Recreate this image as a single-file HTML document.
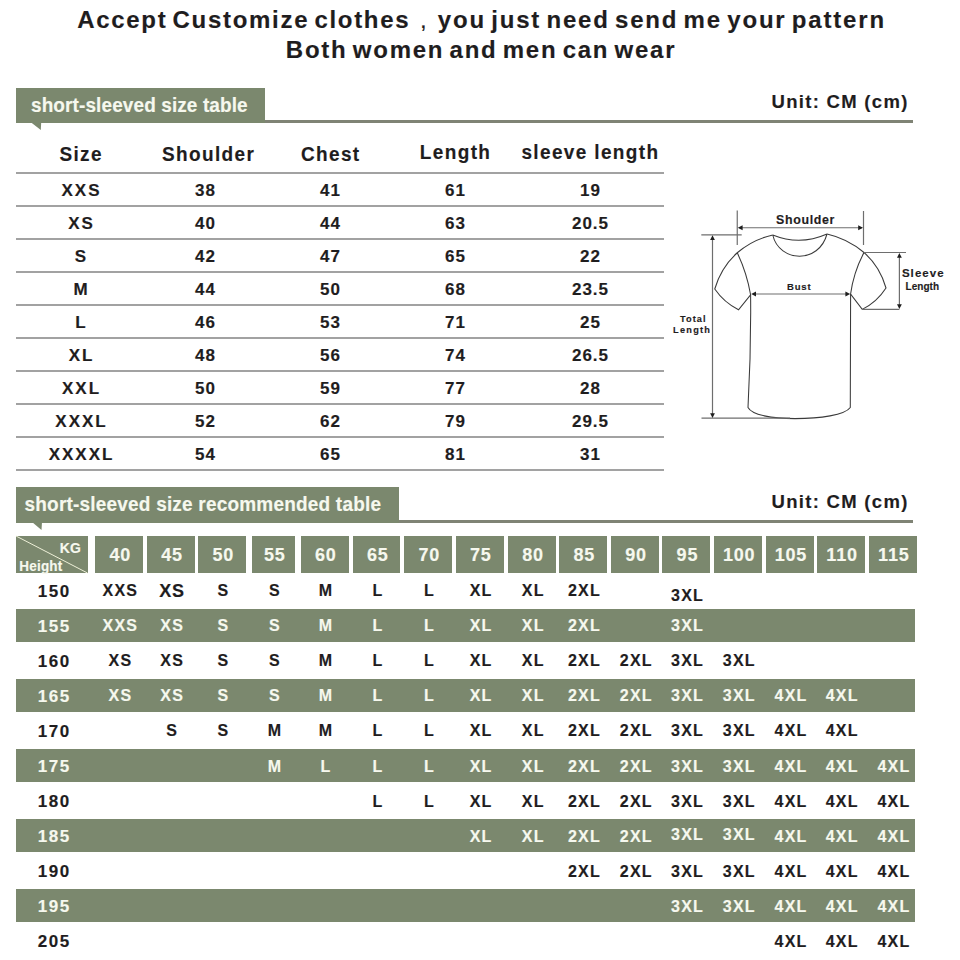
<!DOCTYPE html>
<html><head><meta charset="utf-8"><style>
html,body{margin:0;padding:0;}
body{width:960px;height:960px;position:relative;overflow:hidden;background:#fff;font-family:"Liberation Sans",sans-serif;}
.t{position:absolute;width:1000px;text-align:center;white-space:nowrap;-webkit-text-stroke:0.15px currentColor;}
.tl{position:absolute;white-space:nowrap;-webkit-text-stroke:0.15px currentColor;}
.r{position:absolute;}
svg{position:absolute;left:0;top:0;}
</style></head><body>

<div class="tl" style="left:77.20px;top:7.58px;font-size:24px;line-height:24px;letter-spacing:1.7px;color:#1f1d1e;font-weight:bold;word-spacing:-3.2px;">Accept Customize clothes</div>
<div class="tl" style="left:420.00px;top:7.58px;font-size:24px;line-height:24px;letter-spacing:0px;color:#1f1d1e;font-weight:normal;">,</div>
<div class="tl" style="left:437.80px;top:7.58px;font-size:24px;line-height:24px;letter-spacing:1.82px;color:#1f1d1e;font-weight:bold;word-spacing:-3.2px;">you just need send me your pattern</div>
<div class="tl" style="left:285.80px;top:37.98px;font-size:24px;line-height:24px;letter-spacing:1.77px;color:#1f1d1e;font-weight:bold;word-spacing:-3.2px;">Both women and men can wear</div>
<div class="r" style="left:16px;top:88px;width:249px;height:35px;background:#7b886e;"></div>
<svg width="960" height="960" style="pointer-events:none"><polygon points="30.5,122 41.2,122 40.8,130" fill="#7b886e"/></svg>
<div class="r" style="left:265px;top:120px;width:648px;height:3px;background:#7f8375;"></div>
<div class="tl" style="left:31.00px;top:95.62px;font-size:19px;line-height:19px;letter-spacing:0.1px;color:#f6f8ee;font-weight:bold;transform:scaleY(1.08);transform-origin:0 16.08px;">short-sleeved size table</div>
<div class="tl" style="left:771.50px;top:93.14px;font-size:18.5px;line-height:18.5px;letter-spacing:1.3px;color:#1f1d1e;font-weight:bold;">Unit: CM (cm)</div>
<div class="t" style="left:-418.82px;top:144.62px;font-size:19px;line-height:19px;letter-spacing:1.35px;color:#1f1d1e;font-weight:bold;transform:scaleY(1.05);transform-origin:50% 16.08px;">Size</div>
<div class="t" style="left:-291.43px;top:144.62px;font-size:19px;line-height:19px;letter-spacing:1.35px;color:#1f1d1e;font-weight:bold;transform:scaleY(1.05);transform-origin:50% 16.08px;">Shoulder</div>
<div class="t" style="left:-169.22px;top:144.62px;font-size:19px;line-height:19px;letter-spacing:1.35px;color:#1f1d1e;font-weight:bold;transform:scaleY(1.05);transform-origin:50% 16.08px;">Chest</div>
<div class="t" style="left:-44.43px;top:142.92px;font-size:19px;line-height:19px;letter-spacing:1.35px;color:#1f1d1e;font-weight:bold;transform:scaleY(1.05);transform-origin:50% 16.08px;">Length</div>
<div class="t" style="left:90.42px;top:142.92px;font-size:19px;line-height:19px;letter-spacing:1.35px;color:#1f1d1e;font-weight:bold;transform:scaleY(1.05);transform-origin:50% 16.08px;">sleeve length</div>
<div class="r" style="left:16px;top:172px;width:648px;height:2px;background:#a2a2a2;"></div>
<div class="r" style="left:16px;top:205px;width:648px;height:2px;background:#a2a2a2;"></div>
<div class="r" style="left:16px;top:238px;width:648px;height:2px;background:#a2a2a2;"></div>
<div class="r" style="left:16px;top:271px;width:648px;height:2px;background:#a2a2a2;"></div>
<div class="r" style="left:16px;top:304px;width:648px;height:2px;background:#a2a2a2;"></div>
<div class="r" style="left:16px;top:337px;width:648px;height:2px;background:#a2a2a2;"></div>
<div class="r" style="left:16px;top:370px;width:648px;height:2px;background:#a2a2a2;"></div>
<div class="r" style="left:16px;top:403px;width:648px;height:2px;background:#a2a2a2;"></div>
<div class="r" style="left:16px;top:436px;width:648px;height:2px;background:#a2a2a2;"></div>
<div class="r" style="left:16px;top:469px;width:648px;height:2px;background:#a2a2a2;"></div>
<div class="t" style="left:-418.50px;top:181.71px;font-size:17px;line-height:17px;letter-spacing:2.0px;color:#1f1d1e;font-weight:bold;">XXS</div>
<div class="t" style="left:-294.50px;top:181.71px;font-size:17px;line-height:17px;letter-spacing:1.0px;color:#1f1d1e;font-weight:bold;">38</div>
<div class="t" style="left:-169.50px;top:181.71px;font-size:17px;line-height:17px;letter-spacing:1.0px;color:#1f1d1e;font-weight:bold;">41</div>
<div class="t" style="left:-44.50px;top:181.71px;font-size:17px;line-height:17px;letter-spacing:1.0px;color:#1f1d1e;font-weight:bold;">61</div>
<div class="t" style="left:90.50px;top:181.71px;font-size:17px;line-height:17px;letter-spacing:1.0px;color:#1f1d1e;font-weight:bold;">19</div>
<div class="t" style="left:-418.50px;top:214.71px;font-size:17px;line-height:17px;letter-spacing:2.0px;color:#1f1d1e;font-weight:bold;">XS</div>
<div class="t" style="left:-294.50px;top:214.71px;font-size:17px;line-height:17px;letter-spacing:1.0px;color:#1f1d1e;font-weight:bold;">40</div>
<div class="t" style="left:-169.50px;top:214.71px;font-size:17px;line-height:17px;letter-spacing:1.0px;color:#1f1d1e;font-weight:bold;">44</div>
<div class="t" style="left:-44.50px;top:214.71px;font-size:17px;line-height:17px;letter-spacing:1.0px;color:#1f1d1e;font-weight:bold;">63</div>
<div class="t" style="left:90.50px;top:214.71px;font-size:17px;line-height:17px;letter-spacing:1.0px;color:#1f1d1e;font-weight:bold;">20.5</div>
<div class="t" style="left:-418.50px;top:247.71px;font-size:17px;line-height:17px;letter-spacing:2.0px;color:#1f1d1e;font-weight:bold;">S</div>
<div class="t" style="left:-294.50px;top:247.71px;font-size:17px;line-height:17px;letter-spacing:1.0px;color:#1f1d1e;font-weight:bold;">42</div>
<div class="t" style="left:-169.50px;top:247.71px;font-size:17px;line-height:17px;letter-spacing:1.0px;color:#1f1d1e;font-weight:bold;">47</div>
<div class="t" style="left:-44.50px;top:247.71px;font-size:17px;line-height:17px;letter-spacing:1.0px;color:#1f1d1e;font-weight:bold;">65</div>
<div class="t" style="left:90.50px;top:247.71px;font-size:17px;line-height:17px;letter-spacing:1.0px;color:#1f1d1e;font-weight:bold;">22</div>
<div class="t" style="left:-418.50px;top:280.71px;font-size:17px;line-height:17px;letter-spacing:2.0px;color:#1f1d1e;font-weight:bold;">M</div>
<div class="t" style="left:-294.50px;top:280.71px;font-size:17px;line-height:17px;letter-spacing:1.0px;color:#1f1d1e;font-weight:bold;">44</div>
<div class="t" style="left:-169.50px;top:280.71px;font-size:17px;line-height:17px;letter-spacing:1.0px;color:#1f1d1e;font-weight:bold;">50</div>
<div class="t" style="left:-44.50px;top:280.71px;font-size:17px;line-height:17px;letter-spacing:1.0px;color:#1f1d1e;font-weight:bold;">68</div>
<div class="t" style="left:90.50px;top:280.71px;font-size:17px;line-height:17px;letter-spacing:1.0px;color:#1f1d1e;font-weight:bold;">23.5</div>
<div class="t" style="left:-418.50px;top:313.71px;font-size:17px;line-height:17px;letter-spacing:2.0px;color:#1f1d1e;font-weight:bold;">L</div>
<div class="t" style="left:-294.50px;top:313.71px;font-size:17px;line-height:17px;letter-spacing:1.0px;color:#1f1d1e;font-weight:bold;">46</div>
<div class="t" style="left:-169.50px;top:313.71px;font-size:17px;line-height:17px;letter-spacing:1.0px;color:#1f1d1e;font-weight:bold;">53</div>
<div class="t" style="left:-44.50px;top:313.71px;font-size:17px;line-height:17px;letter-spacing:1.0px;color:#1f1d1e;font-weight:bold;">71</div>
<div class="t" style="left:90.50px;top:313.71px;font-size:17px;line-height:17px;letter-spacing:1.0px;color:#1f1d1e;font-weight:bold;">25</div>
<div class="t" style="left:-418.50px;top:346.71px;font-size:17px;line-height:17px;letter-spacing:2.0px;color:#1f1d1e;font-weight:bold;">XL</div>
<div class="t" style="left:-294.50px;top:346.71px;font-size:17px;line-height:17px;letter-spacing:1.0px;color:#1f1d1e;font-weight:bold;">48</div>
<div class="t" style="left:-169.50px;top:346.71px;font-size:17px;line-height:17px;letter-spacing:1.0px;color:#1f1d1e;font-weight:bold;">56</div>
<div class="t" style="left:-44.50px;top:346.71px;font-size:17px;line-height:17px;letter-spacing:1.0px;color:#1f1d1e;font-weight:bold;">74</div>
<div class="t" style="left:90.50px;top:346.71px;font-size:17px;line-height:17px;letter-spacing:1.0px;color:#1f1d1e;font-weight:bold;">26.5</div>
<div class="t" style="left:-418.50px;top:379.71px;font-size:17px;line-height:17px;letter-spacing:2.0px;color:#1f1d1e;font-weight:bold;">XXL</div>
<div class="t" style="left:-294.50px;top:379.71px;font-size:17px;line-height:17px;letter-spacing:1.0px;color:#1f1d1e;font-weight:bold;">50</div>
<div class="t" style="left:-169.50px;top:379.71px;font-size:17px;line-height:17px;letter-spacing:1.0px;color:#1f1d1e;font-weight:bold;">59</div>
<div class="t" style="left:-44.50px;top:379.71px;font-size:17px;line-height:17px;letter-spacing:1.0px;color:#1f1d1e;font-weight:bold;">77</div>
<div class="t" style="left:90.50px;top:379.71px;font-size:17px;line-height:17px;letter-spacing:1.0px;color:#1f1d1e;font-weight:bold;">28</div>
<div class="t" style="left:-418.50px;top:412.71px;font-size:17px;line-height:17px;letter-spacing:2.0px;color:#1f1d1e;font-weight:bold;">XXXL</div>
<div class="t" style="left:-294.50px;top:412.71px;font-size:17px;line-height:17px;letter-spacing:1.0px;color:#1f1d1e;font-weight:bold;">52</div>
<div class="t" style="left:-169.50px;top:412.71px;font-size:17px;line-height:17px;letter-spacing:1.0px;color:#1f1d1e;font-weight:bold;">62</div>
<div class="t" style="left:-44.50px;top:412.71px;font-size:17px;line-height:17px;letter-spacing:1.0px;color:#1f1d1e;font-weight:bold;">79</div>
<div class="t" style="left:90.50px;top:412.71px;font-size:17px;line-height:17px;letter-spacing:1.0px;color:#1f1d1e;font-weight:bold;">29.5</div>
<div class="t" style="left:-418.50px;top:445.71px;font-size:17px;line-height:17px;letter-spacing:2.0px;color:#1f1d1e;font-weight:bold;">XXXXL</div>
<div class="t" style="left:-294.50px;top:445.71px;font-size:17px;line-height:17px;letter-spacing:1.0px;color:#1f1d1e;font-weight:bold;">54</div>
<div class="t" style="left:-169.50px;top:445.71px;font-size:17px;line-height:17px;letter-spacing:1.0px;color:#1f1d1e;font-weight:bold;">65</div>
<div class="t" style="left:-44.50px;top:445.71px;font-size:17px;line-height:17px;letter-spacing:1.0px;color:#1f1d1e;font-weight:bold;">81</div>
<div class="t" style="left:90.50px;top:445.71px;font-size:17px;line-height:17px;letter-spacing:1.0px;color:#1f1d1e;font-weight:bold;">31</div>
<div class="r" style="left:16px;top:487px;width:383px;height:36px;background:#7b886e;"></div>
<svg width="960" height="960" style="pointer-events:none"><polygon points="32,522 42,522 41.5,530" fill="#7b886e"/></svg>
<div class="r" style="left:399px;top:520px;width:514px;height:3px;background:#7f8375;"></div>
<div class="tl" style="left:24.50px;top:494.92px;font-size:19px;line-height:19px;letter-spacing:0.2px;color:#f6f8ee;font-weight:bold;transform:scaleY(1.08);transform-origin:0 16.08px;">short-sleeved size recommended table</div>
<div class="tl" style="left:771.50px;top:493.14px;font-size:18.5px;line-height:18.5px;letter-spacing:1.3px;color:#1f1d1e;font-weight:bold;">Unit: CM (cm)</div>
<div class="r" style="left:16px;top:536px;width:71.5px;height:37px;background:#7b886e;"></div>
<svg width="960" height="960" style="pointer-events:none"><line x1="16" y1="536" x2="87.5" y2="573" stroke="#eef0d8" stroke-width="1"/></svg>
<div class="tl" style="left:16px;top:540.95px;width:64.8px;text-align:right;font-size:14px;line-height:14px;color:#f6f8ee;font-weight:bold;">KG</div>
<div class="tl" style="left:19.30px;top:559.57px;font-size:13.5px;line-height:13.5px;letter-spacing:0.2px;color:#f6f8ee;font-weight:bold;transform:scaleY(1.04);transform-origin:0 11.43px;">Height</div>
<div class="r" style="left:95px;top:536px;width:48px;height:37px;background:#7b886e;"></div>
<div class="t" style="left:-379.80px;top:545.56px;font-size:18px;line-height:18px;letter-spacing:0.8px;color:#f6f8ee;font-weight:bold;">40</div>
<div class="r" style="left:146.5px;top:536px;width:48.5px;height:37px;background:#7b886e;"></div>
<div class="t" style="left:-328.05px;top:545.56px;font-size:18px;line-height:18px;letter-spacing:0.8px;color:#f6f8ee;font-weight:bold;">45</div>
<div class="r" style="left:198px;top:536px;width:48px;height:37px;background:#7b886e;"></div>
<div class="t" style="left:-276.80px;top:545.56px;font-size:18px;line-height:18px;letter-spacing:0.8px;color:#f6f8ee;font-weight:bold;">50</div>
<div class="r" style="left:252px;top:536px;width:43px;height:37px;background:#7b886e;"></div>
<div class="t" style="left:-225.30px;top:545.56px;font-size:18px;line-height:18px;letter-spacing:0.8px;color:#f6f8ee;font-weight:bold;">55</div>
<div class="r" style="left:300.5px;top:536px;width:48.2px;height:37px;background:#7b886e;"></div>
<div class="t" style="left:-174.20px;top:545.56px;font-size:18px;line-height:18px;letter-spacing:0.8px;color:#f6f8ee;font-weight:bold;">60</div>
<div class="r" style="left:353px;top:536px;width:47.3px;height:37px;background:#7b886e;"></div>
<div class="t" style="left:-122.15px;top:545.56px;font-size:18px;line-height:18px;letter-spacing:0.8px;color:#f6f8ee;font-weight:bold;">65</div>
<div class="r" style="left:404px;top:536px;width:48px;height:37px;background:#7b886e;"></div>
<div class="t" style="left:-70.80px;top:545.56px;font-size:18px;line-height:18px;letter-spacing:0.8px;color:#f6f8ee;font-weight:bold;">70</div>
<div class="r" style="left:455.7px;top:536px;width:47.9px;height:37px;background:#7b886e;"></div>
<div class="t" style="left:-19.15px;top:545.56px;font-size:18px;line-height:18px;letter-spacing:0.8px;color:#f6f8ee;font-weight:bold;">75</div>
<div class="r" style="left:508px;top:536px;width:47.7px;height:37px;background:#7b886e;"></div>
<div class="t" style="left:33.05px;top:545.56px;font-size:18px;line-height:18px;letter-spacing:0.8px;color:#f6f8ee;font-weight:bold;">80</div>
<div class="r" style="left:559px;top:536px;width:48px;height:37px;background:#7b886e;"></div>
<div class="t" style="left:84.20px;top:545.56px;font-size:18px;line-height:18px;letter-spacing:0.8px;color:#f6f8ee;font-weight:bold;">85</div>
<div class="r" style="left:611px;top:536px;width:47.8px;height:37px;background:#7b886e;"></div>
<div class="t" style="left:136.10px;top:545.56px;font-size:18px;line-height:18px;letter-spacing:0.8px;color:#f6f8ee;font-weight:bold;">90</div>
<div class="r" style="left:662px;top:536px;width:48.4px;height:37px;background:#7b886e;"></div>
<div class="t" style="left:187.40px;top:545.56px;font-size:18px;line-height:18px;letter-spacing:0.8px;color:#f6f8ee;font-weight:bold;">95</div>
<div class="r" style="left:714px;top:536px;width:47.8px;height:37px;background:#7b886e;"></div>
<div class="t" style="left:239.10px;top:545.56px;font-size:18px;line-height:18px;letter-spacing:0.8px;color:#f6f8ee;font-weight:bold;">100</div>
<div class="r" style="left:765.5px;top:536px;width:48.3px;height:37px;background:#7b886e;"></div>
<div class="t" style="left:290.85px;top:545.56px;font-size:18px;line-height:18px;letter-spacing:0.8px;color:#f6f8ee;font-weight:bold;">105</div>
<div class="r" style="left:817px;top:536px;width:47.7px;height:37px;background:#7b886e;"></div>
<div class="t" style="left:342.05px;top:545.56px;font-size:18px;line-height:18px;letter-spacing:0.8px;color:#f6f8ee;font-weight:bold;">110</div>
<div class="r" style="left:868.5px;top:536px;width:48.2px;height:37px;background:#7b886e;"></div>
<div class="t" style="left:393.80px;top:545.56px;font-size:18px;line-height:18px;letter-spacing:0.8px;color:#f6f8ee;font-weight:bold;">115</div>
<div class="t" style="left:-445.75px;top:582.51px;font-size:17px;line-height:17px;letter-spacing:1.5px;color:#1f1d1e;font-weight:bold;">150</div>
<div class="t" style="left:-379.60px;top:583.16px;font-size:16px;line-height:16px;letter-spacing:1.2px;color:#1f1d1e;font-weight:bold;">XXS</div>
<div class="t" style="left:-328.10px;top:581.66px;font-size:18px;line-height:18px;letter-spacing:0.7px;color:#1f1d1e;font-weight:bold;">XS</div>
<div class="t" style="left:-276.60px;top:583.16px;font-size:16px;line-height:16px;letter-spacing:1.2px;color:#1f1d1e;font-weight:bold;">S</div>
<div class="t" style="left:-225.10px;top:583.16px;font-size:16px;line-height:16px;letter-spacing:1.2px;color:#1f1d1e;font-weight:bold;">S</div>
<div class="t" style="left:-174.00px;top:583.16px;font-size:16px;line-height:16px;letter-spacing:1.2px;color:#1f1d1e;font-weight:bold;">M</div>
<div class="t" style="left:-121.95px;top:583.16px;font-size:16px;line-height:16px;letter-spacing:1.2px;color:#1f1d1e;font-weight:bold;">L</div>
<div class="t" style="left:-70.60px;top:583.16px;font-size:16px;line-height:16px;letter-spacing:1.2px;color:#1f1d1e;font-weight:bold;">L</div>
<div class="t" style="left:-18.95px;top:583.16px;font-size:16px;line-height:16px;letter-spacing:1.2px;color:#1f1d1e;font-weight:bold;">XL</div>
<div class="t" style="left:33.25px;top:583.16px;font-size:16px;line-height:16px;letter-spacing:1.2px;color:#1f1d1e;font-weight:bold;">XL</div>
<div class="t" style="left:84.40px;top:583.16px;font-size:16px;line-height:16px;letter-spacing:1.2px;color:#1f1d1e;font-weight:bold;">2XL</div>
<div class="t" style="left:187.60px;top:587.56px;font-size:16px;line-height:16px;letter-spacing:1.2px;color:#1f1d1e;font-weight:bold;">3XL</div>
<div class="r" style="left:16px;top:609px;width:898.5px;height:33px;background:#7b886e;"></div>
<div class="t" style="left:-445.75px;top:617.58px;font-size:17px;line-height:17px;letter-spacing:1.5px;color:#f6f8ee;font-weight:bold;">155</div>
<div class="t" style="left:-379.60px;top:618.23px;font-size:16px;line-height:16px;letter-spacing:1.2px;color:#f6f8ee;font-weight:bold;">XXS</div>
<div class="t" style="left:-327.85px;top:618.23px;font-size:16px;line-height:16px;letter-spacing:1.2px;color:#f6f8ee;font-weight:bold;">XS</div>
<div class="t" style="left:-276.60px;top:618.23px;font-size:16px;line-height:16px;letter-spacing:1.2px;color:#f6f8ee;font-weight:bold;">S</div>
<div class="t" style="left:-225.10px;top:618.23px;font-size:16px;line-height:16px;letter-spacing:1.2px;color:#f6f8ee;font-weight:bold;">S</div>
<div class="t" style="left:-174.00px;top:618.23px;font-size:16px;line-height:16px;letter-spacing:1.2px;color:#f6f8ee;font-weight:bold;">M</div>
<div class="t" style="left:-121.95px;top:618.23px;font-size:16px;line-height:16px;letter-spacing:1.2px;color:#f6f8ee;font-weight:bold;">L</div>
<div class="t" style="left:-70.60px;top:618.23px;font-size:16px;line-height:16px;letter-spacing:1.2px;color:#f6f8ee;font-weight:bold;">L</div>
<div class="t" style="left:-18.95px;top:618.23px;font-size:16px;line-height:16px;letter-spacing:1.2px;color:#f6f8ee;font-weight:bold;">XL</div>
<div class="t" style="left:33.25px;top:618.23px;font-size:16px;line-height:16px;letter-spacing:1.2px;color:#f6f8ee;font-weight:bold;">XL</div>
<div class="t" style="left:84.40px;top:618.23px;font-size:16px;line-height:16px;letter-spacing:1.2px;color:#f6f8ee;font-weight:bold;">2XL</div>
<div class="t" style="left:187.60px;top:618.23px;font-size:16px;line-height:16px;letter-spacing:1.2px;color:#f6f8ee;font-weight:bold;">3XL</div>
<div class="t" style="left:-445.75px;top:652.65px;font-size:17px;line-height:17px;letter-spacing:1.5px;color:#1f1d1e;font-weight:bold;">160</div>
<div class="t" style="left:-379.60px;top:653.30px;font-size:16px;line-height:16px;letter-spacing:1.2px;color:#1f1d1e;font-weight:bold;">XS</div>
<div class="t" style="left:-327.85px;top:653.30px;font-size:16px;line-height:16px;letter-spacing:1.2px;color:#1f1d1e;font-weight:bold;">XS</div>
<div class="t" style="left:-276.60px;top:653.30px;font-size:16px;line-height:16px;letter-spacing:1.2px;color:#1f1d1e;font-weight:bold;">S</div>
<div class="t" style="left:-225.10px;top:653.30px;font-size:16px;line-height:16px;letter-spacing:1.2px;color:#1f1d1e;font-weight:bold;">S</div>
<div class="t" style="left:-174.00px;top:653.30px;font-size:16px;line-height:16px;letter-spacing:1.2px;color:#1f1d1e;font-weight:bold;">M</div>
<div class="t" style="left:-121.95px;top:653.30px;font-size:16px;line-height:16px;letter-spacing:1.2px;color:#1f1d1e;font-weight:bold;">L</div>
<div class="t" style="left:-70.60px;top:653.30px;font-size:16px;line-height:16px;letter-spacing:1.2px;color:#1f1d1e;font-weight:bold;">L</div>
<div class="t" style="left:-18.95px;top:653.30px;font-size:16px;line-height:16px;letter-spacing:1.2px;color:#1f1d1e;font-weight:bold;">XL</div>
<div class="t" style="left:33.25px;top:653.30px;font-size:16px;line-height:16px;letter-spacing:1.2px;color:#1f1d1e;font-weight:bold;">XL</div>
<div class="t" style="left:84.40px;top:653.30px;font-size:16px;line-height:16px;letter-spacing:1.2px;color:#1f1d1e;font-weight:bold;">2XL</div>
<div class="t" style="left:136.30px;top:653.30px;font-size:16px;line-height:16px;letter-spacing:1.2px;color:#1f1d1e;font-weight:bold;">2XL</div>
<div class="t" style="left:187.60px;top:653.30px;font-size:16px;line-height:16px;letter-spacing:1.2px;color:#1f1d1e;font-weight:bold;">3XL</div>
<div class="t" style="left:239.30px;top:653.30px;font-size:16px;line-height:16px;letter-spacing:1.2px;color:#1f1d1e;font-weight:bold;">3XL</div>
<div class="r" style="left:16px;top:679px;width:898.5px;height:33px;background:#7b886e;"></div>
<div class="t" style="left:-445.75px;top:687.72px;font-size:17px;line-height:17px;letter-spacing:1.5px;color:#f6f8ee;font-weight:bold;">165</div>
<div class="t" style="left:-379.60px;top:688.37px;font-size:16px;line-height:16px;letter-spacing:1.2px;color:#f6f8ee;font-weight:bold;">XS</div>
<div class="t" style="left:-327.85px;top:688.37px;font-size:16px;line-height:16px;letter-spacing:1.2px;color:#f6f8ee;font-weight:bold;">XS</div>
<div class="t" style="left:-276.60px;top:688.37px;font-size:16px;line-height:16px;letter-spacing:1.2px;color:#f6f8ee;font-weight:bold;">S</div>
<div class="t" style="left:-225.10px;top:688.37px;font-size:16px;line-height:16px;letter-spacing:1.2px;color:#f6f8ee;font-weight:bold;">S</div>
<div class="t" style="left:-174.00px;top:688.37px;font-size:16px;line-height:16px;letter-spacing:1.2px;color:#f6f8ee;font-weight:bold;">M</div>
<div class="t" style="left:-121.95px;top:688.37px;font-size:16px;line-height:16px;letter-spacing:1.2px;color:#f6f8ee;font-weight:bold;">L</div>
<div class="t" style="left:-70.60px;top:688.37px;font-size:16px;line-height:16px;letter-spacing:1.2px;color:#f6f8ee;font-weight:bold;">L</div>
<div class="t" style="left:-18.95px;top:688.37px;font-size:16px;line-height:16px;letter-spacing:1.2px;color:#f6f8ee;font-weight:bold;">XL</div>
<div class="t" style="left:33.25px;top:688.37px;font-size:16px;line-height:16px;letter-spacing:1.2px;color:#f6f8ee;font-weight:bold;">XL</div>
<div class="t" style="left:84.40px;top:688.37px;font-size:16px;line-height:16px;letter-spacing:1.2px;color:#f6f8ee;font-weight:bold;">2XL</div>
<div class="t" style="left:136.30px;top:688.37px;font-size:16px;line-height:16px;letter-spacing:1.2px;color:#f6f8ee;font-weight:bold;">2XL</div>
<div class="t" style="left:187.60px;top:688.37px;font-size:16px;line-height:16px;letter-spacing:1.2px;color:#f6f8ee;font-weight:bold;">3XL</div>
<div class="t" style="left:239.30px;top:688.37px;font-size:16px;line-height:16px;letter-spacing:1.2px;color:#f6f8ee;font-weight:bold;">3XL</div>
<div class="t" style="left:291.05px;top:688.37px;font-size:16px;line-height:16px;letter-spacing:1.2px;color:#f6f8ee;font-weight:bold;">4XL</div>
<div class="t" style="left:342.25px;top:688.37px;font-size:16px;line-height:16px;letter-spacing:1.2px;color:#f6f8ee;font-weight:bold;">4XL</div>
<div class="t" style="left:-445.75px;top:722.79px;font-size:17px;line-height:17px;letter-spacing:1.5px;color:#1f1d1e;font-weight:bold;">170</div>
<div class="t" style="left:-327.85px;top:723.44px;font-size:16px;line-height:16px;letter-spacing:1.2px;color:#1f1d1e;font-weight:bold;">S</div>
<div class="t" style="left:-276.60px;top:723.44px;font-size:16px;line-height:16px;letter-spacing:1.2px;color:#1f1d1e;font-weight:bold;">S</div>
<div class="t" style="left:-225.10px;top:723.44px;font-size:16px;line-height:16px;letter-spacing:1.2px;color:#1f1d1e;font-weight:bold;">M</div>
<div class="t" style="left:-174.00px;top:723.44px;font-size:16px;line-height:16px;letter-spacing:1.2px;color:#1f1d1e;font-weight:bold;">M</div>
<div class="t" style="left:-121.95px;top:723.44px;font-size:16px;line-height:16px;letter-spacing:1.2px;color:#1f1d1e;font-weight:bold;">L</div>
<div class="t" style="left:-70.60px;top:723.44px;font-size:16px;line-height:16px;letter-spacing:1.2px;color:#1f1d1e;font-weight:bold;">L</div>
<div class="t" style="left:-18.95px;top:723.44px;font-size:16px;line-height:16px;letter-spacing:1.2px;color:#1f1d1e;font-weight:bold;">XL</div>
<div class="t" style="left:33.25px;top:723.44px;font-size:16px;line-height:16px;letter-spacing:1.2px;color:#1f1d1e;font-weight:bold;">XL</div>
<div class="t" style="left:84.40px;top:723.44px;font-size:16px;line-height:16px;letter-spacing:1.2px;color:#1f1d1e;font-weight:bold;">2XL</div>
<div class="t" style="left:136.30px;top:723.44px;font-size:16px;line-height:16px;letter-spacing:1.2px;color:#1f1d1e;font-weight:bold;">2XL</div>
<div class="t" style="left:187.60px;top:723.44px;font-size:16px;line-height:16px;letter-spacing:1.2px;color:#1f1d1e;font-weight:bold;">3XL</div>
<div class="t" style="left:239.30px;top:723.44px;font-size:16px;line-height:16px;letter-spacing:1.2px;color:#1f1d1e;font-weight:bold;">3XL</div>
<div class="t" style="left:291.05px;top:723.44px;font-size:16px;line-height:16px;letter-spacing:1.2px;color:#1f1d1e;font-weight:bold;">4XL</div>
<div class="t" style="left:342.25px;top:723.44px;font-size:16px;line-height:16px;letter-spacing:1.2px;color:#1f1d1e;font-weight:bold;">4XL</div>
<div class="r" style="left:16px;top:749px;width:898.5px;height:33px;background:#7b886e;"></div>
<div class="t" style="left:-445.75px;top:757.86px;font-size:17px;line-height:17px;letter-spacing:1.5px;color:#f6f8ee;font-weight:bold;">175</div>
<div class="t" style="left:-225.10px;top:758.51px;font-size:16px;line-height:16px;letter-spacing:1.2px;color:#f6f8ee;font-weight:bold;">M</div>
<div class="t" style="left:-174.00px;top:758.51px;font-size:16px;line-height:16px;letter-spacing:1.2px;color:#f6f8ee;font-weight:bold;">L</div>
<div class="t" style="left:-121.95px;top:758.51px;font-size:16px;line-height:16px;letter-spacing:1.2px;color:#f6f8ee;font-weight:bold;">L</div>
<div class="t" style="left:-70.60px;top:758.51px;font-size:16px;line-height:16px;letter-spacing:1.2px;color:#f6f8ee;font-weight:bold;">L</div>
<div class="t" style="left:-18.95px;top:758.51px;font-size:16px;line-height:16px;letter-spacing:1.2px;color:#f6f8ee;font-weight:bold;">XL</div>
<div class="t" style="left:33.25px;top:758.51px;font-size:16px;line-height:16px;letter-spacing:1.2px;color:#f6f8ee;font-weight:bold;">XL</div>
<div class="t" style="left:84.40px;top:758.51px;font-size:16px;line-height:16px;letter-spacing:1.2px;color:#f6f8ee;font-weight:bold;">2XL</div>
<div class="t" style="left:136.30px;top:758.51px;font-size:16px;line-height:16px;letter-spacing:1.2px;color:#f6f8ee;font-weight:bold;">2XL</div>
<div class="t" style="left:187.60px;top:758.51px;font-size:16px;line-height:16px;letter-spacing:1.2px;color:#f6f8ee;font-weight:bold;">3XL</div>
<div class="t" style="left:239.30px;top:758.51px;font-size:16px;line-height:16px;letter-spacing:1.2px;color:#f6f8ee;font-weight:bold;">3XL</div>
<div class="t" style="left:291.05px;top:758.51px;font-size:16px;line-height:16px;letter-spacing:1.2px;color:#f6f8ee;font-weight:bold;">4XL</div>
<div class="t" style="left:342.25px;top:758.51px;font-size:16px;line-height:16px;letter-spacing:1.2px;color:#f6f8ee;font-weight:bold;">4XL</div>
<div class="t" style="left:394.00px;top:758.51px;font-size:16px;line-height:16px;letter-spacing:1.2px;color:#f6f8ee;font-weight:bold;">4XL</div>
<div class="t" style="left:-445.75px;top:792.93px;font-size:17px;line-height:17px;letter-spacing:1.5px;color:#1f1d1e;font-weight:bold;">180</div>
<div class="t" style="left:-121.95px;top:793.58px;font-size:16px;line-height:16px;letter-spacing:1.2px;color:#1f1d1e;font-weight:bold;">L</div>
<div class="t" style="left:-70.60px;top:793.58px;font-size:16px;line-height:16px;letter-spacing:1.2px;color:#1f1d1e;font-weight:bold;">L</div>
<div class="t" style="left:-18.95px;top:793.58px;font-size:16px;line-height:16px;letter-spacing:1.2px;color:#1f1d1e;font-weight:bold;">XL</div>
<div class="t" style="left:33.25px;top:793.58px;font-size:16px;line-height:16px;letter-spacing:1.2px;color:#1f1d1e;font-weight:bold;">XL</div>
<div class="t" style="left:84.40px;top:793.58px;font-size:16px;line-height:16px;letter-spacing:1.2px;color:#1f1d1e;font-weight:bold;">2XL</div>
<div class="t" style="left:136.30px;top:793.58px;font-size:16px;line-height:16px;letter-spacing:1.2px;color:#1f1d1e;font-weight:bold;">2XL</div>
<div class="t" style="left:187.60px;top:793.58px;font-size:16px;line-height:16px;letter-spacing:1.2px;color:#1f1d1e;font-weight:bold;">3XL</div>
<div class="t" style="left:239.30px;top:793.58px;font-size:16px;line-height:16px;letter-spacing:1.2px;color:#1f1d1e;font-weight:bold;">3XL</div>
<div class="t" style="left:291.05px;top:793.58px;font-size:16px;line-height:16px;letter-spacing:1.2px;color:#1f1d1e;font-weight:bold;">4XL</div>
<div class="t" style="left:342.25px;top:793.58px;font-size:16px;line-height:16px;letter-spacing:1.2px;color:#1f1d1e;font-weight:bold;">4XL</div>
<div class="t" style="left:394.00px;top:793.58px;font-size:16px;line-height:16px;letter-spacing:1.2px;color:#1f1d1e;font-weight:bold;">4XL</div>
<div class="r" style="left:16px;top:819px;width:898.5px;height:33px;background:#7b886e;"></div>
<div class="t" style="left:-445.75px;top:828.00px;font-size:17px;line-height:17px;letter-spacing:1.5px;color:#f6f8ee;font-weight:bold;">185</div>
<div class="t" style="left:-18.95px;top:828.65px;font-size:16px;line-height:16px;letter-spacing:1.2px;color:#f6f8ee;font-weight:bold;">XL</div>
<div class="t" style="left:33.25px;top:828.65px;font-size:16px;line-height:16px;letter-spacing:1.2px;color:#f6f8ee;font-weight:bold;">XL</div>
<div class="t" style="left:84.40px;top:828.65px;font-size:16px;line-height:16px;letter-spacing:1.2px;color:#f6f8ee;font-weight:bold;">2XL</div>
<div class="t" style="left:136.30px;top:828.65px;font-size:16px;line-height:16px;letter-spacing:1.2px;color:#f6f8ee;font-weight:bold;">2XL</div>
<div class="t" style="left:187.60px;top:827.45px;font-size:16px;line-height:16px;letter-spacing:1.2px;color:#f6f8ee;font-weight:bold;">3XL</div>
<div class="t" style="left:239.30px;top:827.45px;font-size:16px;line-height:16px;letter-spacing:1.2px;color:#f6f8ee;font-weight:bold;">3XL</div>
<div class="t" style="left:291.05px;top:828.65px;font-size:16px;line-height:16px;letter-spacing:1.2px;color:#f6f8ee;font-weight:bold;">4XL</div>
<div class="t" style="left:342.25px;top:828.65px;font-size:16px;line-height:16px;letter-spacing:1.2px;color:#f6f8ee;font-weight:bold;">4XL</div>
<div class="t" style="left:394.00px;top:828.65px;font-size:16px;line-height:16px;letter-spacing:1.2px;color:#f6f8ee;font-weight:bold;">4XL</div>
<div class="t" style="left:-445.75px;top:863.07px;font-size:17px;line-height:17px;letter-spacing:1.5px;color:#1f1d1e;font-weight:bold;">190</div>
<div class="t" style="left:84.40px;top:863.72px;font-size:16px;line-height:16px;letter-spacing:1.2px;color:#1f1d1e;font-weight:bold;">2XL</div>
<div class="t" style="left:136.30px;top:863.72px;font-size:16px;line-height:16px;letter-spacing:1.2px;color:#1f1d1e;font-weight:bold;">2XL</div>
<div class="t" style="left:187.60px;top:863.72px;font-size:16px;line-height:16px;letter-spacing:1.2px;color:#1f1d1e;font-weight:bold;">3XL</div>
<div class="t" style="left:239.30px;top:863.72px;font-size:16px;line-height:16px;letter-spacing:1.2px;color:#1f1d1e;font-weight:bold;">3XL</div>
<div class="t" style="left:291.05px;top:863.72px;font-size:16px;line-height:16px;letter-spacing:1.2px;color:#1f1d1e;font-weight:bold;">4XL</div>
<div class="t" style="left:342.25px;top:863.72px;font-size:16px;line-height:16px;letter-spacing:1.2px;color:#1f1d1e;font-weight:bold;">4XL</div>
<div class="t" style="left:394.00px;top:863.72px;font-size:16px;line-height:16px;letter-spacing:1.2px;color:#1f1d1e;font-weight:bold;">4XL</div>
<div class="r" style="left:16px;top:889px;width:898.5px;height:33px;background:#7b886e;"></div>
<div class="t" style="left:-445.75px;top:898.14px;font-size:17px;line-height:17px;letter-spacing:1.5px;color:#f6f8ee;font-weight:bold;">195</div>
<div class="t" style="left:187.60px;top:898.79px;font-size:16px;line-height:16px;letter-spacing:1.2px;color:#f6f8ee;font-weight:bold;">3XL</div>
<div class="t" style="left:239.30px;top:898.79px;font-size:16px;line-height:16px;letter-spacing:1.2px;color:#f6f8ee;font-weight:bold;">3XL</div>
<div class="t" style="left:291.05px;top:898.79px;font-size:16px;line-height:16px;letter-spacing:1.2px;color:#f6f8ee;font-weight:bold;">4XL</div>
<div class="t" style="left:342.25px;top:898.79px;font-size:16px;line-height:16px;letter-spacing:1.2px;color:#f6f8ee;font-weight:bold;">4XL</div>
<div class="t" style="left:394.00px;top:898.79px;font-size:16px;line-height:16px;letter-spacing:1.2px;color:#f6f8ee;font-weight:bold;">4XL</div>
<div class="t" style="left:-445.75px;top:933.21px;font-size:17px;line-height:17px;letter-spacing:1.5px;color:#1f1d1e;font-weight:bold;">205</div>
<div class="t" style="left:291.05px;top:933.86px;font-size:16px;line-height:16px;letter-spacing:1.2px;color:#1f1d1e;font-weight:bold;">4XL</div>
<div class="t" style="left:342.25px;top:933.86px;font-size:16px;line-height:16px;letter-spacing:1.2px;color:#1f1d1e;font-weight:bold;">4XL</div>
<div class="t" style="left:394.00px;top:933.86px;font-size:16px;line-height:16px;letter-spacing:1.2px;color:#1f1d1e;font-weight:bold;">4XL</div>
<svg width="960" height="960" style="pointer-events:none">
<path d="M772.75,235 Q752.8,239.4 737.25,252.75 Q720.9,267.7 714.75,289 Q724,302.4 738.5,309.75 L750.6,294.75 Q746.8,272.8 737.25,252.75 " fill="none" stroke="#3a3a3a" stroke-width="1.05" stroke-linejoin="miter"/>
<path d="M750.6,294.75 Q751.2,350 748,407.5 C752,415 772,418.6 795,418.6 C820,418.6 845,415 850.3,407.5 L850.6,294" fill="none" stroke="#3a3a3a" stroke-width="1.05" stroke-linejoin="miter"/>
<path d="M827,234 Q847.2,238.5 864,252.5 Q880,266.5 886,288 Q877,302 862.25,309.4 L850.6,294 Q853.6,272.2 864,252.5" fill="none" stroke="#3a3a3a" stroke-width="1.05" stroke-linejoin="miter"/>
<path d="M772.75,235 C776,249 788,256.3 799.5,256.3 C811,256.3 823,249 827,234 M772.75,235 Q800,246 827,234" fill="none" stroke="#3a3a3a" stroke-width="1.05" stroke-linejoin="miter"/>
<line x1="737.25" y1="210.5" x2="737.25" y2="245" stroke="#6e6e6e" stroke-width="1.2"/>
<line x1="863.5" y1="211" x2="863.5" y2="245" stroke="#6e6e6e" stroke-width="1.2"/>
<line x1="739" y1="227.75" x2="862" y2="227.75" stroke="#6e6e6e" stroke-width="1.2"/>
<line x1="701.3" y1="234.8" x2="741.7" y2="234.8" stroke="#6e6e6e" stroke-width="1.2"/>
<line x1="712.5" y1="238" x2="712.5" y2="414" stroke="#6e6e6e" stroke-width="1.2"/>
<line x1="701.5" y1="418.2" x2="790" y2="418.2" stroke="#6e6e6e" stroke-width="1.2"/>
<line x1="754" y1="294" x2="848" y2="294" stroke="#6e6e6e" stroke-width="1.2"/>
<line x1="864" y1="252.5" x2="906" y2="252.5" stroke="#6e6e6e" stroke-width="1.2"/>
<line x1="862" y1="309.4" x2="899.4" y2="309.4" stroke="#6e6e6e" stroke-width="1.2"/>
<line x1="899.4" y1="256" x2="899.4" y2="306" stroke="#6e6e6e" stroke-width="1.2"/>
<polygon points="712.5,235.2 710.1,240.0 714.9,240.0" fill="#1e1e1e"/>
<polygon points="712.5,418 710.1,413.2 714.9,413.2" fill="#1e1e1e"/>
<polygon points="737.8,227.75 742.5999999999999,225.35 742.5999999999999,230.15" fill="#1e1e1e"/>
<polygon points="863,227.75 858.2,225.35 858.2,230.15" fill="#1e1e1e"/>
<polygon points="751.2,294 756.0,291.6 756.0,296.4" fill="#1e1e1e"/>
<polygon points="850.2,294 845.4000000000001,291.6 845.4000000000001,296.4" fill="#1e1e1e"/>
<polygon points="899.4,253 897.0,257.8 901.8,257.8" fill="#1e1e1e"/>
<polygon points="899.4,309 897.0,304.2 901.8,304.2" fill="#1e1e1e"/>
</svg>
<div class="t" style="left:305.53px;top:214.00px;font-size:12.4px;line-height:12.4px;letter-spacing:0.65px;color:#1f1d1e;font-weight:bold;transform:scaleY(1.04);transform-origin:50% 10.50px;">Shoulder</div>
<div class="t" style="left:299.25px;top:281.86px;font-size:9.5px;line-height:9.5px;letter-spacing:0.9px;color:#1f1d1e;font-weight:bold;">Bust</div>
<div class="t" style="left:193.34px;top:315.01px;font-size:9.2px;line-height:9.2px;letter-spacing:1.08px;color:#1f1d1e;font-weight:bold;">Total</div>
<div class="t" style="left:192.13px;top:326.11px;font-size:9.2px;line-height:9.2px;letter-spacing:1.26px;color:#1f1d1e;font-weight:bold;">Length</div>
<div class="tl" style="left:901.90px;top:268.07px;font-size:11.5px;line-height:11.5px;letter-spacing:1.06px;color:#1f1d1e;font-weight:bold;">Sleeve</div>
<div class="tl" style="left:905.60px;top:282.29px;font-size:10px;line-height:10px;letter-spacing:0.02px;color:#1f1d1e;font-weight:bold;">Length</div>
</body></html>
